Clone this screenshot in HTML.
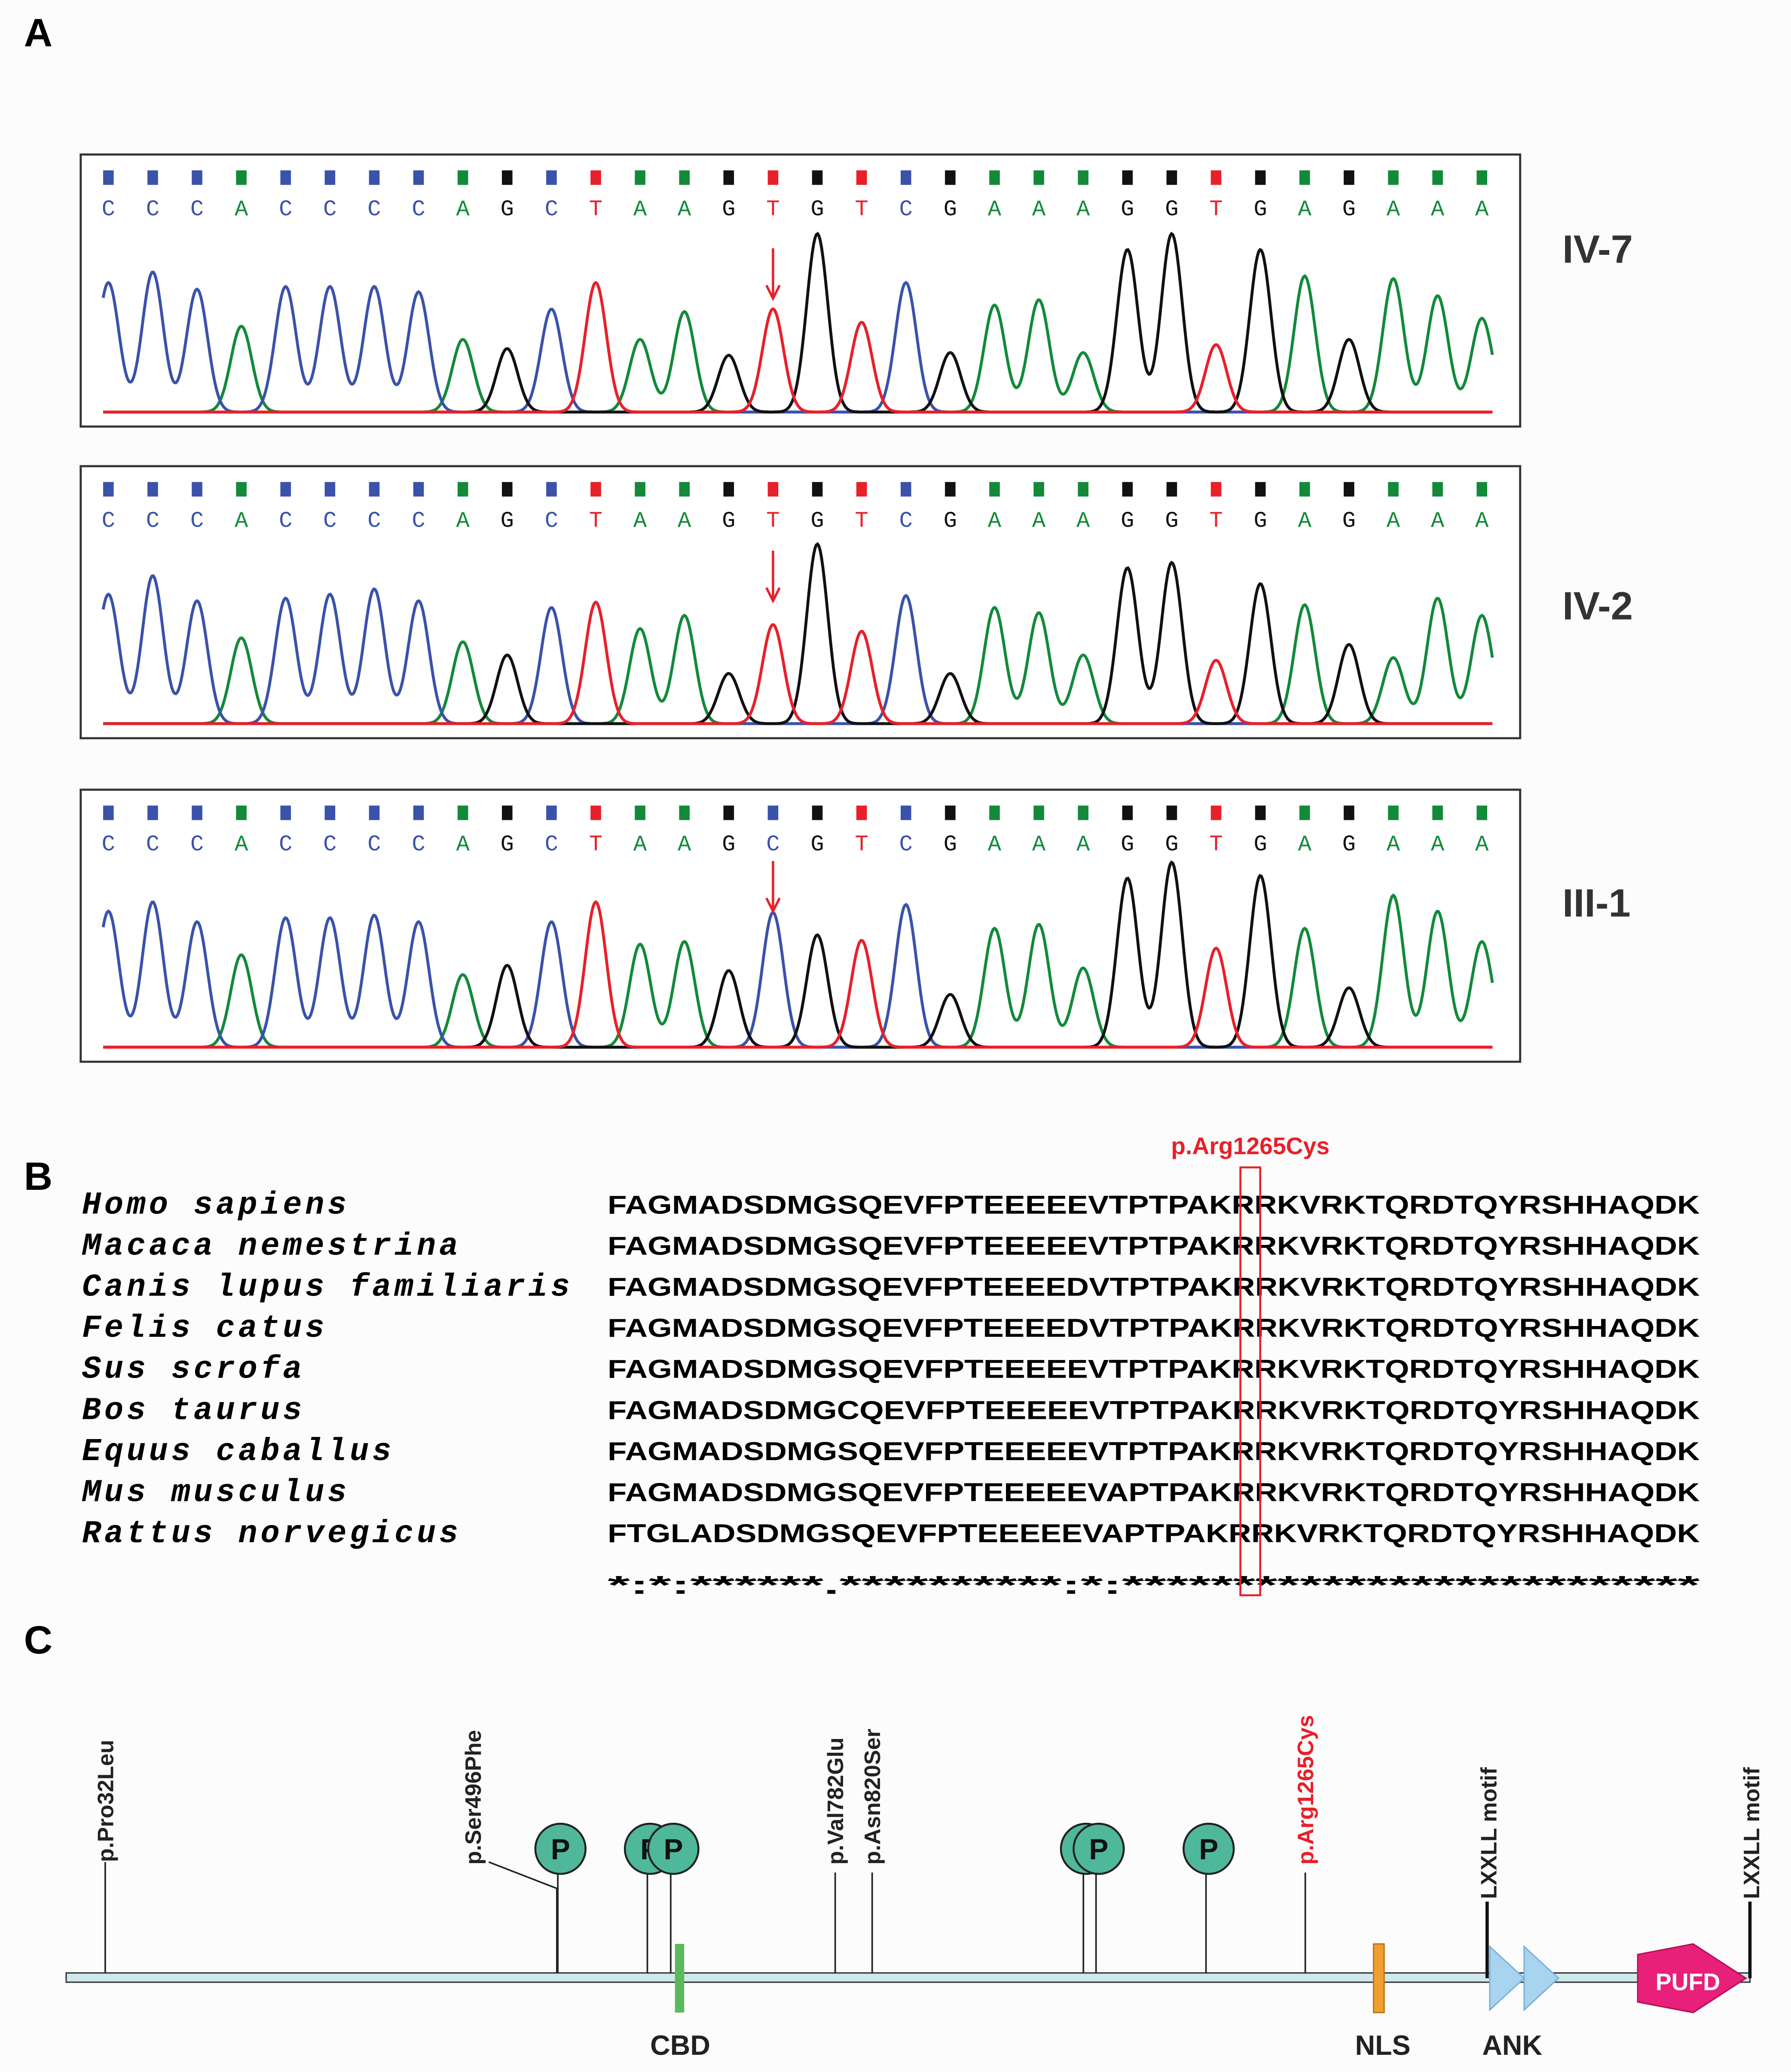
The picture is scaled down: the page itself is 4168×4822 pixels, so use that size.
<!DOCTYPE html>
<html><head><meta charset="utf-8">
<style>
html,body{margin:0;padding:0;background:#fff;}
svg{display:block;}
.lbl{font-family:"Liberation Sans",Arial,sans-serif;font-weight:bold;}
.sp{font-family:"Liberation Mono","Courier New",monospace;font-weight:bold;font-style:italic;font-size:24px;letter-spacing:2.5px;}
.sq{font-family:"Liberation Sans",Arial,sans-serif;font-weight:bold;font-size:19.5px;}
.base{font-family:"Liberation Mono",monospace;font-size:17px;}
</style></head>
<body>
<svg id="fig" width="4168" height="4822" viewBox="0 0 1356 1569" xmlns="http://www.w3.org/2000/svg">
<rect x="0" y="0" width="1356" height="1569" fill="#fcfcfd"/>
<text class="lbl" x="18" y="35" font-size="30">A</text>
<text class="lbl" x="18" y="901" font-size="30">B</text>
<text class="lbl" x="18" y="1252" font-size="30">C</text>
<g id="chroma"></g>
<g id="align"></g>
<g id="domain"></g>
</svg>
<script>
const seqIV7 = "CCCACCCCAGCTAAGTGTCGAAAGGTGAGAAA";
const seqIV2 = "CCCACCCCAGCTAAGTGTCGAAAGGTGAGAAA";
const seqIII1 = "CCCACCCCAGCTAAGCGTCGAAAGGTGAGAAA";
const hIV7 = [98,106,93,65,95,95,95,91,55,48,78,98,55,76,43,78,135,68,98,45,81,85,45,123,135,51,123,103,55,101,88,71];
const hIV2 = [98,112,93,65,95,98,102,93,62,52,88,92,72,82,38,75,136,70,97,38,88,84,52,118,122,48,106,90,60,50,95,82];
const hIII1 = [103,110,95,70,98,98,100,95,55,62,95,110,78,80,58,102,85,81,108,40,90,93,60,128,140,75,130,90,45,115,103,80];
const panelNames = ["IV-7","IV-2","III-1"];
const species = ["Homo sapiens","Macaca nemestrina","Canis lupus familiaris","Felis catus","Sus scrofa","Bos taurus","Equus caballus","Mus musculus","Rattus norvegicus"];
const seqs = ["FAGMADSDMGSQEVFPTEEEEEVTPTPAKRRKVRKTQRDTQYRSHHAQDK","FAGMADSDMGSQEVFPTEEEEEVTPTPAKRRKVRKTQRDTQYRSHHAQDK","FAGMADSDMGSQEVFPTEEEEDVTPTPAKRRKVRKTQRDTQYRSHHAQDK","FAGMADSDMGSQEVFPTEEEEDVTPTPAKRRKVRKTQRDTQYRSHHAQDK","FAGMADSDMGSQEVFPTEEEEEVTPTPAKRRKVRKTQRDTQYRSHHAQDK","FAGMADSDMGCQEVFPTEEEEEVTPTPAKRRKVRKTQRDTQYRSHHAQDK","FAGMADSDMGSQEVFPTEEEEEVTPTPAKRRKVRKTQRDTQYRSHHAQDK","FAGMADSDMGSQEVFPTEEEEEVAPTPAKRRKVRKTQRDTQYRSHHAQDK","FTGLADSDMGSQEVFPTEEEEEVAPTPAKRRKVRKTQRDTQYRSHHAQDK"];
const consensus = "*:*:******.**********:*:******" + "********************";
const mutIndex = 29;
const mutNames = ["p.Pro32Leu","p.Ser496Phe","p.Val782Glu","p.Asn820Ser","p.Arg1265Cys"];
const mutPos = [32,496,782,820,1265];
const phosPos = [497,589,613,1037,1050,1163];

const NS="http://www.w3.org/2000/svg";
function mk(tag,attrs,parent,txt){const e=document.createElementNS(NS,tag);for(const k in attrs)e.setAttribute(k,attrs[k]);if(txt!==undefined)e.textContent=txt;parent.appendChild(e);return e;}
const col={A:"#128a3a",C:"#3a52aa",G:"#111",T:"#e8202a"};
const chroma=document.getElementById('chroma');
const tops=[117,353,598];
const arrowTop=[71,64,54];
const seqsC=[seqIV7,seqIV2,seqIII1];
const hs=[hIV7,hIV2,hIII1];
const x0=82,dx=33.55;
function bx(i){return x0+i*dx;}
for(let p=0;p<3;p++){
  const t=tops[p];
  const g=mk('g',{},chroma);
  
  
  const box=mk('rect',{x:61,y:t,width:1090,height:206,fill:'#fff',stroke:'#333','stroke-width':1.6},g);
  
  
  const base=t+196;
  const s=seqsC[p],h=hs[p];
  for(let i=0;i<s.length;i++){
    const c=col[s[i]];
    const sq=mk('rect',{x:bx(i)-4,y:t+12,width:8,height:11,fill:c},g);
    
    
    const tx=mk('text',{x:bx(i),y:t+46,'text-anchor':'middle',class:'base',fill:c},g,s[i]);
    
    
  }
  for(const b of ["A","C","G","T"]){
    let d="";
    for(let x=x0-4;x<=x0+(s.length-1)*dx+8;x+=1){
      let y=0;
      for(let i=0;i<s.length;i++){ if(s[i]===b){const u=(x-bx(i))/8;y+=h[i]*Math.exp(-u*u/2);} }
      d+=(d?"L":"M")+x.toFixed(1)+","+(base-y-1).toFixed(1);
    }
    const pa=mk('path',{d:d,fill:'none',stroke:col[b],'stroke-width':2.2},g);
    
    
  }
  const mx=bx(15), at=t+arrowTop[p];
  const ar=mk('path',{d:`M${mx},${at}V${at+37}M${mx-5},${at+28}L${mx},${at+38}L${mx+5},${at+28}`,stroke:'#e8202a','stroke-width':1.8,fill:'none'},g);
  
  
  const nm=mk('text',{x:1183,y:[199,469,694][p],class:'lbl','font-size':30,fill:'#333'},g,panelNames[p]);
  
  
}
const al=document.getElementById('align');
const seqX=460,seqW=827,rowY=919,rowH=31.1;
const cw=seqW/50;
for(let r=0;r<species.length;r++){
  const y=rowY+r*rowH;
  const sp=mk('text',{x:62,y:y,class:'sp'},al,species[r]);
  
  
  const sq=mk('text',{x:seqX,y:y,class:'sq',textLength:seqW,lengthAdjust:'spacingAndGlyphs'},al,seqs[r]);
  
  
}
const cs=mk('text',{x:seqX,y:rowY+9*rowH+8,class:'sq',textLength:seqW,lengthAdjust:'spacingAndGlyphs'},al,consensus);


const hb=mk('rect',{x:seqX+mutIndex*cw-0.5,y:884,width:15,height:324,fill:'none',stroke:'#e8202a','stroke-width':1.5},al);


const ml=mk('text',{x:seqX+mutIndex*cw+7,y:874,'text-anchor':'middle',class:'lbl','font-size':18,fill:'#e8202a'},al,'p.Arg1265Cys');


const dm=document.getElementById('domain');
function px(aa){return 56+aa*0.737;}
const bb=mk('rect',{x:50,y:1494,width:1275,height:7,fill:'#cfe8ec',stroke:'#333','stroke-width':1},dm);


for(let i=0;i<mutNames.length;i++){
  const x=px(mutPos[i]);
  const red=mutNames[i]==="p.Arg1265Cys";
  const top=i===1?1430:1418;
  const ln=mk('path',{d:i===1?`M370,1410L${x},${top}V1494`:`M${x},${i===0?1410:top}V1494`,stroke:'#222','stroke-width':1.2,fill:'none'},dm);
  
  
  const tx=i===1?364:x+6;
  const ty=i===0?1410:1412;
  const tt=mk('text',{x:tx,y:ty,class:'lbl','font-size':17,fill:red?'#e8202a':'#222',transform:`rotate(-90 ${tx} ${ty})`},dm,mutNames[i]);
  
  
}
for(let i=0;i<phosPos.length;i++){
  const x=px(phosPos[i]);
  const ln=mk('line',{x1:x,y1:1400,x2:x,y2:1494,stroke:'#222','stroke-width':1.2},dm);
  
  
  const c=mk('circle',{cx:x+2,cy:1400,r:19,fill:'#4fb89a',stroke:'#222','stroke-width':1.5},dm);
  
  
  const t=mk('text',{x:x+2,y:1408,'text-anchor':'middle',class:'lbl','font-size':22,fill:'#111'},dm,'P');
  
  
}
const cbd=mk('rect',{x:511,y:1472,width:7,height:52,fill:'#5cb85c'},dm);


const nls=mk('rect',{x:1040,y:1472,width:8,height:52,fill:'#f0a030',stroke:'#c07010'},dm);


for(const x of [1128,1154]){
  const a=mk('path',{d:`M${x},1474L${x+26},1498L${x},1522Z`,fill:'#a8d4f0',stroke:'#7ab0d8'},dm);
  
  
}
const pu=mk('path',{d:'M1240,1480L1282,1472L1322,1498L1282,1524L1240,1516Z',fill:'#e8207a',stroke:'#b01050'},dm);


const put=mk('text',{x:1278,y:1507,'text-anchor':'middle',class:'lbl','font-size':18,fill:'#fff'},dm,'PUFD');


for(const x of [1126,1325]){
  const l=mk('line',{x1:x,y1:1440,x2:x,y2:1498,stroke:'#111','stroke-width':2.5},dm);
  
  
  const t=mk('text',{x:x+7,y:1438,class:'lbl','font-size':17,fill:'#222',transform:`rotate(-90 ${x+7} 1438)`},dm,'LXXLL motif');
  
  
}
[["CBD",515],["NLS",1047],["ANK",1145]].forEach(([n,x])=>{
  const t=mk('text',{x:x,y:1556,'text-anchor':'middle',class:'lbl','font-size':21,fill:'#222'},dm,n);
  
  
});
</script>
</body></html>
